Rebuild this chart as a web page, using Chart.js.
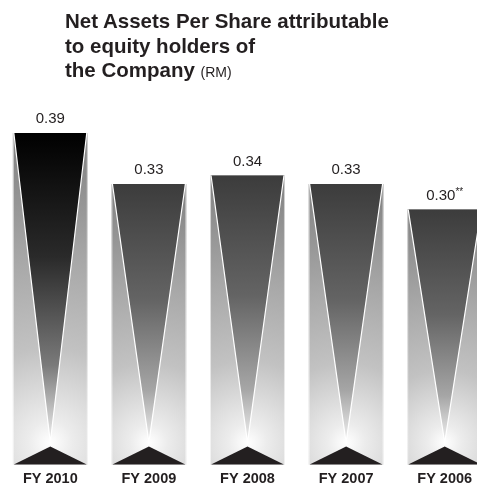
<!DOCTYPE html>
<html>
<head>
<meta charset="utf-8">
<title>Net Assets Per Share</title>
<script src="https://cdn.jsdelivr.net/npm/chart.js@4/dist/chart.umd.min.js"></script>
<style>
  html, body { margin: 0; padding: 0; background: #fff; overflow: hidden; }
  #wrap { position: relative; width: 477px; height: 492px; overflow: hidden; }
  #title {
    position: absolute; left: 65px; top: 9px;
    font-family: "Liberation Sans", Arial, sans-serif;
    font-weight: bold; font-size: 20.5px; line-height: 24.5px; color: #231f20;
  }
  #title small { font-weight: normal; font-size: 14px; }
  canvas { position: absolute; left: 0; top: 0; }
</style>
</head>
<body>
<div id="wrap">
  <canvas id="navChart" width="494" height="494"></canvas>
  <div id="title">Net Assets Per Share attributable<br>to equity holders of<br>the Company <small>(RM)</small></div>
</div>
<script>
// chart values
const categories = ['FY 2010', 'FY 2009', 'FY 2008', 'FY 2007', 'FY 2006'];
const navPerShare = [0.39, 0.33, 0.34, 0.33, 0.30];
const valueLabels = ['0.39', '0.33', '0.34', '0.33', '0.30'];
const labelNotes = ['', '', '', '', '**'];

// Draws the shaded "V" look on each bar, using the bar element's own box.
const fancyBars = {
    id: 'fancyBars',
    afterDatasetsDraw(chart) {
        const ctx = chart.ctx;
        const meta = chart.getDatasetMeta(0);
        meta.data.forEach((bar, i) => {
            const p = bar.getProps(['x', 'y', 'base', 'width'], true);
            const left = p.x - p.width / 2;
            const right = p.x + p.width / 2;
            const top = p.y;
            const bottom = p.base;
            const apexY = bottom - 22;
            ctx.save();

            // sides: light glow from the bottom centre
            const glow = ctx.createRadialGradient(p.x, apexY, 0, p.x, apexY, (bottom - top) * 0.95);
            glow.addColorStop(0, '#ffffff');
            glow.addColorStop(0.07, '#ececec');
            glow.addColorStop(0.3, '#c2c2c2');
            glow.addColorStop(0.6, '#a6a6a6');
            glow.addColorStop(1, '#7e7e7e');
            ctx.fillStyle = glow;
            ctx.fillRect(left, top, right - left, bottom - top);

            // the dark V
            const v = ctx.createLinearGradient(0, top, 0, apexY);
            if (i === 0) {
                v.addColorStop(0, '#000000');
                v.addColorStop(0.4, '#2a2a2a');
                v.addColorStop(0.75, '#7a7a7a');
            } else {
                v.addColorStop(0, '#3c3c3c');
                v.addColorStop(0.45, '#646464');
                v.addColorStop(0.8, '#a6a6a6');
            }
            v.addColorStop(1, '#f2f2f2');
            ctx.beginPath();
            ctx.moveTo(left + 1, top);
            ctx.lineTo(right - 1, top);
            ctx.lineTo(p.x, apexY);
            ctx.closePath();
            ctx.fillStyle = v;
            ctx.fill();

            // white edges of the V
            ctx.beginPath();
            ctx.moveTo(left + 1, top);
            ctx.lineTo(p.x, apexY);
            ctx.lineTo(right - 1, top);
            ctx.strokeStyle = '#ffffff';
            ctx.lineWidth = 1.2;
            ctx.stroke();

            // faint light rims on the sides
            ctx.strokeStyle = 'rgba(255,255,255,0.6)';
            ctx.lineWidth = 1;
            ctx.beginPath();
            ctx.moveTo(left + 0.5, top);
            ctx.lineTo(left + 0.5, bottom);
            ctx.moveTo(right - 0.5, top);
            ctx.lineTo(right - 0.5, bottom);
            ctx.stroke();

            // black base triangle
            ctx.beginPath();
            ctx.moveTo(left + 1, bottom);
            ctx.lineTo(right - 1, bottom);
            ctx.lineTo(p.x, bottom - 18);
            ctx.closePath();
            ctx.fillStyle = '#231f20';
            ctx.fill();

            // value label above the bar
            ctx.font = '15px "Liberation Sans", Arial, sans-serif';
            ctx.fillStyle = '#231f20';
            ctx.textBaseline = 'alphabetic';
            const main = valueLabels[i];
            const note = labelNotes[i];
            const mw = ctx.measureText(main).width;
            ctx.font = '10px "Liberation Sans", Arial, sans-serif';
            const nw = note ? ctx.measureText(note).width : 0;
            const startX = p.x - (mw + nw) / 2;
            ctx.font = '15px "Liberation Sans", Arial, sans-serif';
            ctx.textAlign = 'left';
            ctx.fillText(main, startX, top - 10);
            if (note) {
                ctx.font = '10px "Liberation Sans", Arial, sans-serif';
                ctx.fillText(note, startX + mw, top - 15);
            }
            ctx.restore();
        });
    }
};

const ctx = document.getElementById('navChart').getContext('2d');
const navChart = new Chart(ctx, {
    type: 'bar',
    data: {
        labels: categories,
        datasets: [{
            data: navPerShare,
            backgroundColor: 'rgba(0,0,0,0)',
            borderWidth: 0,
            barPercentage: 0.76,
            categoryPercentage: 1
        }]
    },
    options: {
        responsive: false,
        animation: false,
        layout: { padding: { top: 82, left: 1, right: 0, bottom: 0 } },
        plugins: {
            legend: { display: false },
            tooltip: { enabled: false }
        },
        scales: {
            x: {
                grid: { display: false, drawTicks: false },
                border: { display: false },
                ticks: {
                    padding: 6,
                    color: '#231f20',
                    font: { family: '"Liberation Sans", Arial, sans-serif', size: 14.5, weight: 'bold' }
                }
            },
            y: {
                display: false,
                min: 0,
                max: 0.45
            }
        }
    },
    plugins: [fancyBars]
});
</script>
</body>
</html>
